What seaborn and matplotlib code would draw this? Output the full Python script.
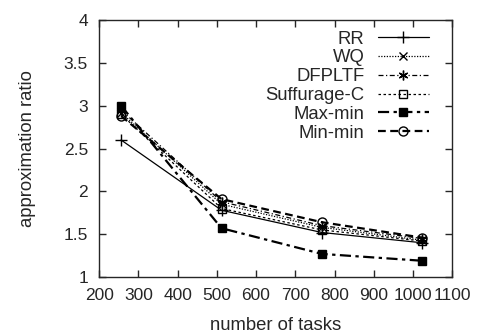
import seaborn as sns
import matplotlib.pyplot as plt

tasks = [256, 512, 768, 1024]
rr = [2.60, 1.78, 1.52, 1.40]
wq = [2.92, 1.85, 1.58, 1.43]
dfpltf = [2.95, 1.88, 1.60, 1.45]
suffurage_c = [2.90, 1.80, 1.55, 1.42]
max_min = [3.00, 1.57, 1.27, 1.19]
min_min = [2.88, 1.91, 1.64, 1.46]

sns.set_style("ticks")
plt.rcParams["font.family"] = ["Liberation Sans", "DejaVu Sans"]

fig, ax = plt.subplots(figsize=(4.79, 3.35), dpi=100)
fig.subplots_adjust(left=0.207, right=0.944, top=0.940, bottom=0.173)

# (label, valores, marker, linestyle, linewidth, markerfacecolor, markersize)
series = [
    ("RR", rr, "+", "-", 0.9, "k", 8),
    ("WQ", wq, "x", (0, (1, 1.2)), 0.9, "k", 6),
    ("DFPLTF", dfpltf, (6, 2, 0), (0, (4, 2, 1, 2)), 0.9, "k", 7),
    ("Suffurage-C", suffurage_c, "s", (0, (2, 2)), 0.9, "none", 6),
    ("Max-min", max_min, "s", (0, (5, 2, 1.5, 2)), 1.6, "k", 6),
    ("Min-min", min_min, "o", (0, (3.5, 2)), 1.6, "none", 6.5),
]

for label, vals, mk, ls, lw, mfc, ms in series:
    sns.lineplot(x=tasks, y=vals, ax=ax, color="k", marker=mk, linestyle=ls,
                 linewidth=lw, markerfacecolor=mfc, markeredgecolor="k",
                 markeredgewidth=1.0, markersize=ms, label=label)

ax.set_xlim(200, 1100)
ax.set_ylim(1, 4)
ax.set_xticks(range(200, 1101, 100))
ax.set_yticks([1, 1.5, 2, 2.5, 3, 3.5, 4])
ax.set_yticklabels(["1", "1.5", "2", "2.5", "3", "3.5", "4"])
ax.tick_params(direction="in", top=True, right=True, length=5, width=1,
               labelsize=12.5)
ax.tick_params(axis="x", pad=8)
ax.tick_params(axis="y", pad=8)
for s in ax.spines.values():
    s.set_linewidth(1.0)
    s.set_visible(True)

ax.set_xlabel("number of tasks", fontsize=13.3, labelpad=10)
ax.set_ylabel("approximation ratio", fontsize=13.3, labelpad=20)

leg = ax.legend(loc="upper right", bbox_to_anchor=(0.956, 0.988),
                frameon=False, markerfirst=False,
                fontsize=13.3, handlelength=2.8, labelspacing=0.1,
                handletextpad=0.7, borderaxespad=0.0)
# texto alineado a la derecha como en gnuplot
leg._legend_box._children[-1]._children[0].align = "right"

plt.savefig("out.png", dpi=100)
plt.close()
